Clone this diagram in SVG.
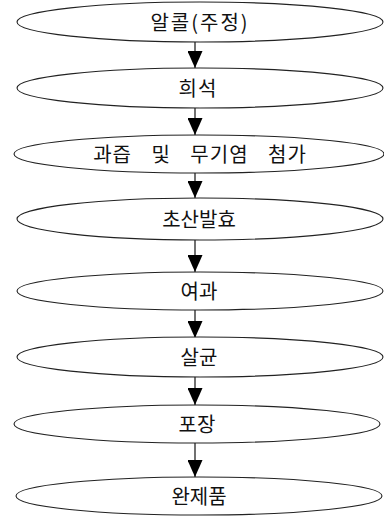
<svg xmlns="http://www.w3.org/2000/svg" width="384" height="517" viewBox="0 0 384 517">
<style>
.n ellipse{fill:#fff;stroke:#222;stroke-width:1.1}
.n text{font-family:"Noto Sans CJK KR","Noto Sans CJK SC",sans-serif;font-size:20px;fill:#111;text-anchor:middle;dominant-baseline:central}
.c line{stroke:#111;stroke-width:1.2}
</style>
<defs>
<marker id="ah" viewBox="0 0 17 15" refX="17" refY="7.5" markerWidth="17" markerHeight="15" markerUnits="userSpaceOnUse" orient="auto">
<path d="M0,0 L17,7.5 L0,15 Z" fill="#000"/>
</marker>
</defs>
<rect width="384" height="517" fill="#fff"/>
<g class="c">
<line x1="195" y1="42" x2="195" y2="68" marker-end="url(#ah)"/>
<line x1="195" y1="108" x2="195" y2="135" marker-end="url(#ah)"/>
<line x1="195" y1="173" x2="195" y2="198" marker-end="url(#ah)"/>
<line x1="195" y1="240" x2="195" y2="272" marker-end="url(#ah)"/>
<line x1="195" y1="310" x2="195" y2="338" marker-end="url(#ah)"/>
<line x1="195" y1="376" x2="195" y2="405" marker-end="url(#ah)"/>
<line x1="195" y1="443" x2="195" y2="477" marker-end="url(#ah)"/>
</g>
<g id="n1" class="n"><ellipse cx="200" cy="22" rx="183" ry="20"/><text x="200" y="21" letter-spacing="2">알콜(주정)</text></g>
<g id="n2" class="n"><ellipse cx="200" cy="88" rx="183" ry="20"/><text x="198" y="87" letter-spacing="1">희석</text></g>
<g id="n3" class="n"><ellipse cx="199" cy="154" rx="185" ry="19"/><text x="200" y="153" letter-spacing="1" word-spacing="14">과즙 및 무기염 첨가</text></g>
<g id="n4" class="n"><ellipse cx="200" cy="219" rx="183" ry="21"/><text x="199" y="218">초산발효</text></g>
<g id="n5" class="n"><ellipse cx="200" cy="291" rx="183" ry="19"/><text x="199" y="290">여과</text></g>
<g id="n6" class="n"><ellipse cx="200" cy="357" rx="183" ry="20"/><text x="199" y="356">살균</text></g>
<g id="n7" class="n"><ellipse cx="197" cy="424" rx="183" ry="19"/><text x="197" y="423">포장</text></g>
<g id="n8" class="n"><ellipse cx="199" cy="496" rx="183" ry="19"/><text x="199" y="495">완제품</text></g>
</svg>
